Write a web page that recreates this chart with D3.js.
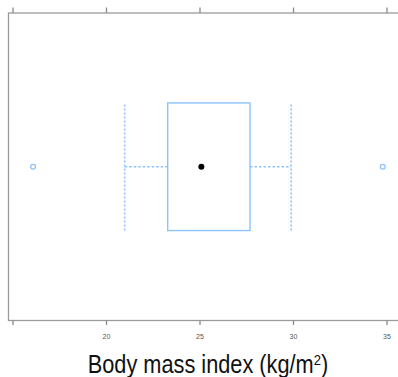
<!DOCTYPE html>
<html>
<head>
<meta charset="utf-8">
<script src="https://cdn.jsdelivr.net/npm/d3@7"></script>
<style>
  body { margin: 0; background: #fff; }
</style>
</head>
<body>
<script>
// data
var groups = ["BMI"];
var whiskerLow = [21.0];
var q1 = [23.3];
var median = [25.1];
var q3 = [27.7];
var whiskerHigh = [29.9];
var outliers = [16.1, 34.8];
var tickValues = [15, 20, 25, 30, 35];
var tickLabels = ["", "20", "25", "30", "35"];

// set the dimensions
var width = 398, height = 377;
var panel = {left: 8.5, top: 13, right: 410, bottom: 320.5};

var svg = d3.select("body").append("svg")
    .attr("width", width)
    .attr("height", height);

// set the ranges
var x = d3.scaleLinear()
    .domain([15, 35])
    .range([12.5, 386.5]);
var y = d3.scaleBand()
    .domain(groups)
    .range([panel.top, panel.bottom])
    .paddingInner(0)
    .paddingOuter(0);

var boxH = y.bandwidth() * 0.415;
var blue = "#8cc4ff";

// panel border
svg.append("rect")
    .attr("x", panel.left)
    .attr("y", panel.top)
    .attr("width", panel.right - panel.left)
    .attr("height", panel.bottom - panel.top)
    .attr("fill", "none")
    .attr("stroke", "#9a9a9a")
    .attr("stroke-width", 1.3);

// bottom axis
var bottomAxis = d3.axisBottom(x)
    .tickValues(tickValues)
    .tickSize(4.5)
    .tickPadding(9)
    .tickFormat(function(d, i) { return tickLabels[i]; });
var gb = svg.append("g")
    .attr("transform", "translate(0," + panel.bottom + ")")
    .call(bottomAxis);
gb.select(".domain").remove();
gb.selectAll("line").attr("stroke", "#8a8a8a").attr("stroke-width", 1.3);
gb.selectAll("text")
    .attr("fill", "#555")
    .style("font-family", "Liberation Sans, Arial, sans-serif")
    .style("font-size", "7px");

// top axis (ticks only)
var topAxis = d3.axisTop(x)
    .tickValues(tickValues)
    .tickSize(5.5)
    .tickFormat("");
var gt = svg.append("g")
    .attr("transform", "translate(0," + panel.top + ")")
    .call(topAxis);
gt.select(".domain").remove();
gt.selectAll("line").attr("stroke", "#8a8a8a").attr("stroke-width", 1.3);

// box and whiskers
var g = svg.append("g");
groups.forEach(function(k, i) {
  var cy = y(k) + y.bandwidth() / 2;

  // whisker stems
  g.append("line")
      .attr("x1", x(whiskerLow[i])).attr("x2", x(q1[i]))
      .attr("y1", cy).attr("y2", cy)
      .attr("stroke", blue).attr("stroke-width", 1.6)
      .attr("stroke-dasharray", "2.5,2");
  g.append("line")
      .attr("x1", x(q3[i])).attr("x2", x(whiskerHigh[i]))
      .attr("y1", cy).attr("y2", cy)
      .attr("stroke", blue).attr("stroke-width", 1.6)
      .attr("stroke-dasharray", "2.5,2");

  // whisker ends
  [whiskerLow[i], whiskerHigh[i]].forEach(function(v) {
    g.append("line")
        .attr("x1", x(v)).attr("x2", x(v))
        .attr("y1", cy - boxH / 2 + 1.5).attr("y2", cy + boxH / 2)
        .attr("stroke", blue).attr("stroke-width", 1.6)
        .attr("stroke-dasharray", "2,2");
  });

  // box
  g.append("rect")
      .attr("x", x(q1[i]))
      .attr("y", cy - boxH / 2)
      .attr("width", x(q3[i]) - x(q1[i]))
      .attr("height", boxH)
      .attr("fill", "none")
      .attr("stroke", blue)
      .attr("stroke-width", 1.4);

  // median dot
  g.append("circle")
      .attr("cx", x(median[i]))
      .attr("cy", cy)
      .attr("r", 3)
      .attr("fill", "#000");

  // outliers
  g.selectAll(".out")
      .data(outliers)
    .enter().append("circle")
      .attr("class", "out")
      .attr("cx", function(d) { return x(d); })
      .attr("cy", cy)
      .attr("r", 2.4)
      .attr("fill", "#fff")
      .attr("stroke", blue)
      .attr("stroke-width", 1.3);
});

// axis title (condensed, like the narrow face in the original)
var title = svg.append("text")
    .attr("transform", "translate(208,373) scale(0.87,1)")
    .attr("text-anchor", "middle")
    .attr("fill", "#111")
    .style("font-family", "'Liberation Sans Narrow', 'Arial Narrow', 'Liberation Sans', Arial, sans-serif")
    .style("font-size", "25px");
title.append("tspan").text("Body mass index (kg/m");
title.append("tspan").attr("dy", -8).style("font-size", "15px").text("2");
title.append("tspan").attr("dy", 8).text(")");
</script>
</body>
</html>
